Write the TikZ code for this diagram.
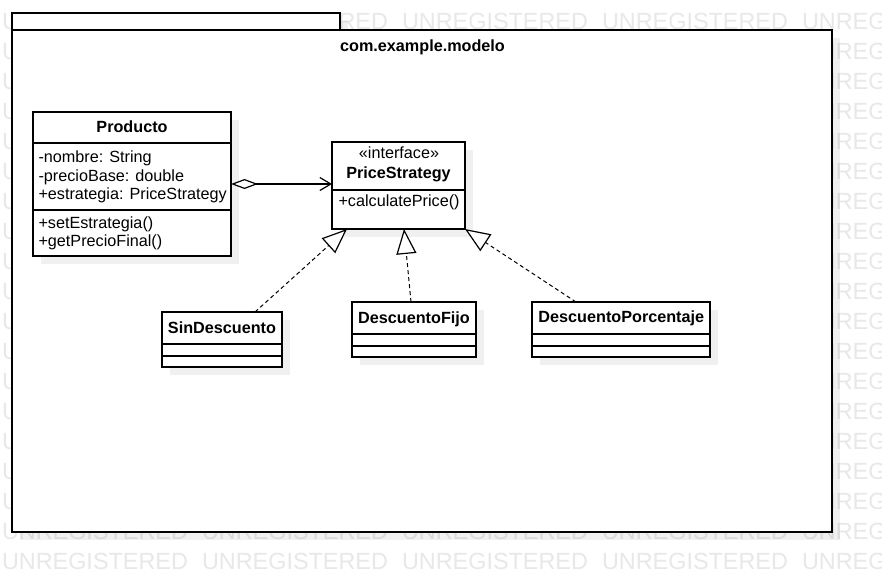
\documentclass[tikz,border=0pt]{standalone}
\usepackage{fontspec}
\setmainfont{Liberation Sans}
\usetikzlibrary{arrows.meta,shadows}
\definecolor{wmgray}{RGB}{232,232,232}
\begin{document}
\begin{tikzpicture}[x=1pt,y=-1pt,
  every node/.style={inner sep=0pt, outer sep=0pt},
  txt/.style={font=\fontsize{16.2}{19}\selectfont, anchor=base west},
  ttl/.style={font=\fontsize{16.2}{19}\selectfont\bfseries, anchor=base},
  ital/.style={font=\fontsize{16.2}{19}\selectfont, anchor=base},
  umlbox/.style={draw=black, line width=1.2pt, fill=white, rectangle, anchor=north west,
    drop shadow={shadow xshift=8pt, shadow yshift=-8pt, fill=black, opacity=0.06, draw=none}},
  wm/.style={font=\fontsize{23.4}{28}\selectfont, text=wmgray, anchor=base west},
  sep/.style={line width=1.2pt},
  real/.style={line width=1pt, dash pattern=on 4pt off 3pt,
    -{Triangle[open, fill=white, length=25pt, width=20pt, line width=1.2pt]}},
  agg/.style={line width=1.2pt,
    {Diamond[open, fill=white, length=27pt, width=10pt, line width=1.2pt]}-{Straight Barb[length=11pt, width=13pt, line width=1.2pt]}},
]
\useasboundingbox (0,0) rectangle (882,582);
\clip (0,0) rectangle (882,582);
\fill[white] (0,0) rectangle (882,582);
% watermark
\foreach \k in {0,...,18} {
  \foreach \j in {0,...,4} {
    \node[wm] (wm-\k-\j) at ({2+200*\j}, {29.3+30*\k}) {UNREGISTERED};
  }
}
% package
\node[umlbox, drop shadow={opacity=0}, minimum width=328pt, minimum height=17pt] (tab) at (12,13) {};
\node[umlbox, minimum width=820pt, minimum height=502pt] (pkg) at (12,30) {};
\node[ttl] (pkgname) at (422.5,51.7) {com.example.modelo};

% Producto
\node[umlbox, minimum width=198pt, minimum height=144pt] (prod) at (33,112) {};
\draw[sep] (prod.west |- 0,143) -- (prod.east |- 0,143);
\draw[sep] (prod.west |- 0,210) -- (prod.east |- 0,210);
\node[ttl] (prodname) at (132,132.7) {Producto};
\node[txt] (a1) at (38.5,162.3) {-nombre: String};
\node[txt] (a2) at (38.5,181) {-precioBase: double};
\node[txt] (a3) at (38.5,199.5) {+estrategia: PriceStrategy};
\node[txt] (m1) at (38.5,228) {+setEstrategia()};
\node[txt] (m2) at (38.5,246.5) {+getPrecioFinal()};

% PriceStrategy
\node[umlbox, minimum width=133pt, minimum height=87pt] (ps) at (332,142) {};
\draw[sep] (ps.west |- 0,190) -- (ps.east |- 0,190);
\node[ital] (psst) at (399,158.3) {«interface»};
\node[ttl] (psname) at (398.5,178.3) {PriceStrategy};
\node[txt] (psm) at (338.5,206.5) {+calculatePrice()};

% SinDescuento
\node[umlbox, minimum width=120pt, minimum height=55pt] (sin) at (162,312) {};
\draw[sep] (sin.west |- 0,344) -- (sin.east |- 0,344);
\draw[sep] (sin.west |- 0,356) -- (sin.east |- 0,356);
\node[ttl] (sinname) at (222,333) {SinDescuento};

% DescuentoFijo
\node[umlbox, minimum width=124pt, minimum height=55pt] (fijo) at (352,302) {};
\draw[sep] (fijo.west |- 0,334) -- (fijo.east |- 0,334);
\draw[sep] (fijo.west |- 0,346) -- (fijo.east |- 0,346);
\node[ttl] (fijoname) at (414,323) {DescuentoFijo};

% DescuentoPorcentaje
\node[umlbox, minimum width=178pt, minimum height=55pt] (porc) at (532,302) {};
\draw[sep] (porc.west |- 0,334) -- (porc.east |- 0,334);
\draw[sep] (porc.west |- 0,346) -- (porc.east |- 0,346);
\node[ttl] (porcname) at (621.3,322.7) {DescuentoPorcentaje};

% connectors
\draw[agg] (prod.east) -- (prod.east -| ps.west);
\draw[real] ([xshift=33pt]sin.north) -- ([xshift=-51.5pt]ps.south);
\draw[real] ([xshift=-3pt]fijo.north) -- ([xshift=5.5pt]ps.south);
\draw[real] ([xshift=-45pt]porc.north) -- (ps.south east);
\end{tikzpicture}
\end{document}
